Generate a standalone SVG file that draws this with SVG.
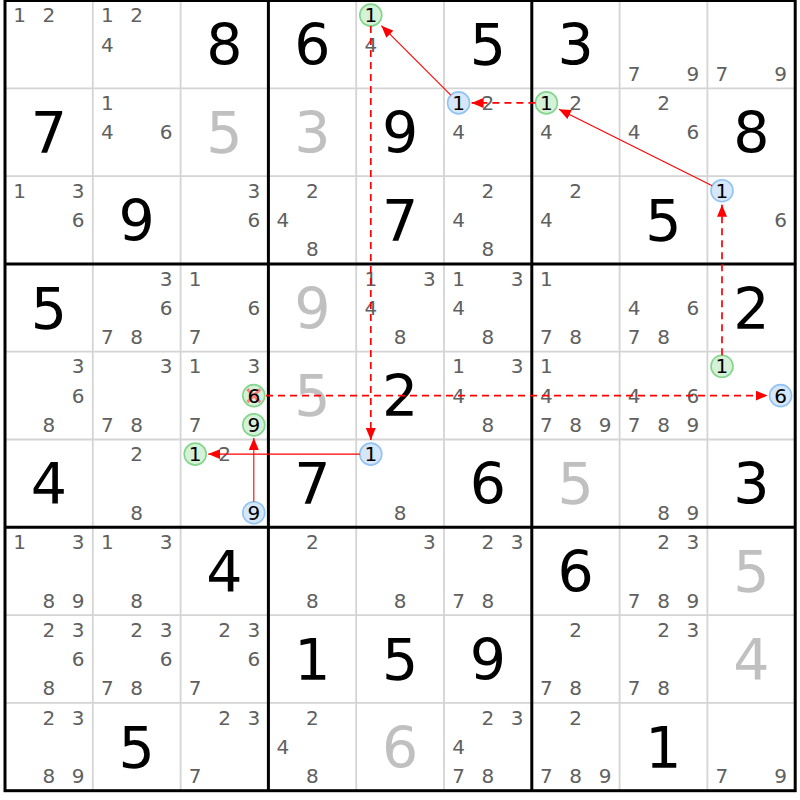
<svg xmlns="http://www.w3.org/2000/svg" width="800" height="800" viewBox="0 0 800 800">
<style>
.bg{fill:#fff}
.thin{stroke:#d4d4d4;stroke-width:1.8;fill:none}
.thick{stroke:#000;stroke-width:3;fill:none}
text{font-family:"DejaVu Sans",Verdana,sans-serif;text-anchor:middle}
.c{font-size:20px;fill:#606060}
.b{font-size:57px;fill:#000}
.gr{fill:#c0c0c0}
.h{fill:#000}
.cg{fill:#d5f1d7;stroke:#82d68d;stroke-width:1.6}
.cb{fill:#d6e7fa;stroke:#92c3f3;stroke-width:1.6}
.x{stroke:#ff8080;stroke-width:3}
.ln{stroke:#ff0000;stroke-width:1.1;fill:none}
.dl{stroke:#ff0000;stroke-width:1.7;stroke-dasharray:7,5;fill:none}
</style>
<defs>
<marker id="ah" markerUnits="userSpaceOnUse" markerWidth="13" markerHeight="10" refX="12" refY="5" orient="auto">
<path d="M0,0 L12,5 L0,10 z" fill="#ff0000"/>
</marker>
</defs>
<rect class="bg" x="0" y="0" width="800" height="800"/>
<g id="grid-thin">
<path class="thin" d="M92.8,0.5V790.7M180.6,0.5V790.7M356.2,0.5V790.7M444,0.5V790.7M619.6,0.5V790.7M707.4,0.5V790.7M5,88.3H795.2M5,176.1H795.2M5,351.7H795.2M5,439.5H795.2M5,615.1H795.2M5,702.9H795.2"/>
</g>
<!-- Row 1 -->
<g id="r1c1" transform="translate(5,0.5)"><text class="c" x="14.6" y="21.8">1</text><text class="c" x="43.9" y="21.8">2</text></g>
<g id="r1c2" transform="translate(92.8,0.5)"><text class="c" x="14.6" y="21.8">1</text><text class="c" x="43.9" y="21.8">2</text><text class="c" x="14.6" y="51.1">4</text></g>
<g id="r1c3" transform="translate(180.6,0.5)"><text class="b" x="43.9" y="64.8">8</text></g>
<g id="r1c4" transform="translate(268.4,0.5)"><text class="b" x="43.9" y="64.8">6</text></g>
<g id="r1c5" transform="translate(356.2,0.5)"><circle class="cg" cx="14.6" cy="14.6" r="11"/><text class="c h" x="14.6" y="21.8">1</text><text class="c" x="14.6" y="51.1">4</text></g>
<g id="r1c6" transform="translate(444,0.5)"><text class="b" x="43.9" y="64.8">5</text></g>
<g id="r1c7" transform="translate(531.8,0.5)"><text class="b" x="43.9" y="64.8">3</text></g>
<g id="r1c8" transform="translate(619.6,0.5)"><text class="c" x="14.6" y="80.4">7</text><text class="c" x="73.2" y="80.4">9</text></g>
<g id="r1c9" transform="translate(707.4,0.5)"><text class="c" x="14.6" y="80.4">7</text><text class="c" x="73.2" y="80.4">9</text></g>
<!-- Row 2 -->
<g id="r2c1" transform="translate(5,88.3)"><text class="b" x="43.9" y="64.8">7</text></g>
<g id="r2c2" transform="translate(92.8,88.3)"><text class="c" x="14.6" y="21.8">1</text><text class="c" x="14.6" y="51.1">4</text><text class="c" x="73.2" y="51.1">6</text></g>
<g id="r2c3" transform="translate(180.6,88.3)"><text class="b gr" x="43.9" y="64.8">5</text></g>
<g id="r2c4" transform="translate(268.4,88.3)"><text class="b gr" x="43.9" y="64.8">3</text></g>
<g id="r2c5" transform="translate(356.2,88.3)"><text class="b" x="43.9" y="64.8">9</text></g>
<g id="r2c6" transform="translate(444,88.3)"><circle class="cb" cx="14.6" cy="14.6" r="11"/><text class="c h" x="14.6" y="21.8">1</text><text class="c" x="43.9" y="21.8">2</text><text class="c" x="14.6" y="51.1">4</text></g>
<g id="r2c7" transform="translate(531.8,88.3)"><circle class="cg" cx="14.6" cy="14.6" r="11"/><text class="c h" x="14.6" y="21.8">1</text><text class="c" x="43.9" y="21.8">2</text><text class="c" x="14.6" y="51.1">4</text></g>
<g id="r2c8" transform="translate(619.6,88.3)"><text class="c" x="43.9" y="21.8">2</text><text class="c" x="14.6" y="51.1">4</text><text class="c" x="73.2" y="51.1">6</text></g>
<g id="r2c9" transform="translate(707.4,88.3)"><text class="b" x="43.9" y="64.8">8</text></g>
<!-- Row 3 -->
<g id="r3c1" transform="translate(5,176.1)"><text class="c" x="14.6" y="21.8">1</text><text class="c" x="73.2" y="21.8">3</text><text class="c" x="73.2" y="51.1">6</text></g>
<g id="r3c2" transform="translate(92.8,176.1)"><text class="b" x="43.9" y="64.8">9</text></g>
<g id="r3c3" transform="translate(180.6,176.1)"><text class="c" x="73.2" y="21.8">3</text><text class="c" x="73.2" y="51.1">6</text></g>
<g id="r3c4" transform="translate(268.4,176.1)"><text class="c" x="43.9" y="21.8">2</text><text class="c" x="14.6" y="51.1">4</text><text class="c" x="43.9" y="80.4">8</text></g>
<g id="r3c5" transform="translate(356.2,176.1)"><text class="b" x="43.9" y="64.8">7</text></g>
<g id="r3c6" transform="translate(444,176.1)"><text class="c" x="43.9" y="21.8">2</text><text class="c" x="14.6" y="51.1">4</text><text class="c" x="43.9" y="80.4">8</text></g>
<g id="r3c7" transform="translate(531.8,176.1)"><text class="c" x="43.9" y="21.8">2</text><text class="c" x="14.6" y="51.1">4</text></g>
<g id="r3c8" transform="translate(619.6,176.1)"><text class="b" x="43.9" y="64.8">5</text></g>
<g id="r3c9" transform="translate(707.4,176.1)"><circle class="cb" cx="14.6" cy="14.6" r="11"/><text class="c h" x="14.6" y="21.8">1</text><text class="c" x="73.2" y="51.1">6</text></g>
<!-- Row 4 -->
<g id="r4c1" transform="translate(5,263.9)"><text class="b" x="43.9" y="64.8">5</text></g>
<g id="r4c2" transform="translate(92.8,263.9)"><text class="c" x="73.2" y="21.8">3</text><text class="c" x="73.2" y="51.1">6</text><text class="c" x="14.6" y="80.4">7</text><text class="c" x="43.9" y="80.4">8</text></g>
<g id="r4c3" transform="translate(180.6,263.9)"><text class="c" x="14.6" y="21.8">1</text><text class="c" x="73.2" y="51.1">6</text><text class="c" x="14.6" y="80.4">7</text></g>
<g id="r4c4" transform="translate(268.4,263.9)"><text class="b gr" x="43.9" y="64.8">9</text></g>
<g id="r4c5" transform="translate(356.2,263.9)"><text class="c" x="14.6" y="21.8">1</text><text class="c" x="73.2" y="21.8">3</text><text class="c" x="14.6" y="51.1">4</text><text class="c" x="43.9" y="80.4">8</text></g>
<g id="r4c6" transform="translate(444,263.9)"><text class="c" x="14.6" y="21.8">1</text><text class="c" x="73.2" y="21.8">3</text><text class="c" x="14.6" y="51.1">4</text><text class="c" x="43.9" y="80.4">8</text></g>
<g id="r4c7" transform="translate(531.8,263.9)"><text class="c" x="14.6" y="21.8">1</text><text class="c" x="14.6" y="80.4">7</text><text class="c" x="43.9" y="80.4">8</text></g>
<g id="r4c8" transform="translate(619.6,263.9)"><text class="c" x="14.6" y="51.1">4</text><text class="c" x="73.2" y="51.1">6</text><text class="c" x="14.6" y="80.4">7</text><text class="c" x="43.9" y="80.4">8</text></g>
<g id="r4c9" transform="translate(707.4,263.9)"><text class="b" x="43.9" y="64.8">2</text></g>
<!-- Row 5 -->
<g id="r5c1" transform="translate(5,351.7)"><text class="c" x="73.2" y="21.8">3</text><text class="c" x="73.2" y="51.1">6</text><text class="c" x="43.9" y="80.4">8</text></g>
<g id="r5c2" transform="translate(92.8,351.7)"><text class="c" x="73.2" y="21.8">3</text><text class="c" x="14.6" y="80.4">7</text><text class="c" x="43.9" y="80.4">8</text></g>
<g id="r5c3" transform="translate(180.6,351.7)"><text class="c" x="14.6" y="21.8">1</text><text class="c" x="73.2" y="21.8">3</text><circle class="cg" cx="73.2" cy="43.9" r="11"/><path class="x" d="M66.7,37.4L79.7,50.4M79.7,37.4L66.7,50.4"/><text class="c h" x="73.2" y="51.1">6</text><text class="c" x="14.6" y="80.4">7</text><circle class="cg" cx="73.2" cy="73.2" r="11"/><text class="c h" x="73.2" y="80.4">9</text></g>
<g id="r5c4" transform="translate(268.4,351.7)"><text class="b gr" x="43.9" y="64.8">5</text></g>
<g id="r5c5" transform="translate(356.2,351.7)"><text class="b" x="43.9" y="64.8">2</text></g>
<g id="r5c6" transform="translate(444,351.7)"><text class="c" x="14.6" y="21.8">1</text><text class="c" x="73.2" y="21.8">3</text><text class="c" x="14.6" y="51.1">4</text><text class="c" x="43.9" y="80.4">8</text></g>
<g id="r5c7" transform="translate(531.8,351.7)"><text class="c" x="14.6" y="21.8">1</text><text class="c" x="14.6" y="51.1">4</text><text class="c" x="14.6" y="80.4">7</text><text class="c" x="43.9" y="80.4">8</text><text class="c" x="73.2" y="80.4">9</text></g>
<g id="r5c8" transform="translate(619.6,351.7)"><text class="c" x="14.6" y="51.1">4</text><text class="c" x="73.2" y="51.1">6</text><text class="c" x="14.6" y="80.4">7</text><text class="c" x="43.9" y="80.4">8</text><text class="c" x="73.2" y="80.4">9</text></g>
<g id="r5c9" transform="translate(707.4,351.7)"><circle class="cg" cx="14.6" cy="14.6" r="11"/><text class="c h" x="14.6" y="21.8">1</text><circle class="cb" cx="73.2" cy="43.9" r="11"/><text class="c h" x="73.2" y="51.1">6</text></g>
<!-- Row 6 -->
<g id="r6c1" transform="translate(5,439.5)"><text class="b" x="43.9" y="64.8">4</text></g>
<g id="r6c2" transform="translate(92.8,439.5)"><text class="c" x="43.9" y="21.8">2</text><text class="c" x="43.9" y="80.4">8</text></g>
<g id="r6c3" transform="translate(180.6,439.5)"><circle class="cg" cx="14.6" cy="14.6" r="11"/><text class="c h" x="14.6" y="21.8">1</text><text class="c" x="43.9" y="21.8">2</text><circle class="cb" cx="73.2" cy="73.2" r="11"/><text class="c h" x="73.2" y="80.4">9</text></g>
<g id="r6c4" transform="translate(268.4,439.5)"><text class="b" x="43.9" y="64.8">7</text></g>
<g id="r6c5" transform="translate(356.2,439.5)"><circle class="cb" cx="14.6" cy="14.6" r="11"/><text class="c h" x="14.6" y="21.8">1</text><text class="c" x="43.9" y="80.4">8</text></g>
<g id="r6c6" transform="translate(444,439.5)"><text class="b" x="43.9" y="64.8">6</text></g>
<g id="r6c7" transform="translate(531.8,439.5)"><text class="b gr" x="43.9" y="64.8">5</text></g>
<g id="r6c8" transform="translate(619.6,439.5)"><text class="c" x="43.9" y="80.4">8</text><text class="c" x="73.2" y="80.4">9</text></g>
<g id="r6c9" transform="translate(707.4,439.5)"><text class="b" x="43.9" y="64.8">3</text></g>
<!-- Row 7 -->
<g id="r7c1" transform="translate(5,527.3)"><text class="c" x="14.6" y="21.8">1</text><text class="c" x="73.2" y="21.8">3</text><text class="c" x="43.9" y="80.4">8</text><text class="c" x="73.2" y="80.4">9</text></g>
<g id="r7c2" transform="translate(92.8,527.3)"><text class="c" x="14.6" y="21.8">1</text><text class="c" x="73.2" y="21.8">3</text><text class="c" x="43.9" y="80.4">8</text></g>
<g id="r7c3" transform="translate(180.6,527.3)"><text class="b" x="43.9" y="64.8">4</text></g>
<g id="r7c4" transform="translate(268.4,527.3)"><text class="c" x="43.9" y="21.8">2</text><text class="c" x="43.9" y="80.4">8</text></g>
<g id="r7c5" transform="translate(356.2,527.3)"><text class="c" x="73.2" y="21.8">3</text><text class="c" x="43.9" y="80.4">8</text></g>
<g id="r7c6" transform="translate(444,527.3)"><text class="c" x="43.9" y="21.8">2</text><text class="c" x="73.2" y="21.8">3</text><text class="c" x="14.6" y="80.4">7</text><text class="c" x="43.9" y="80.4">8</text></g>
<g id="r7c7" transform="translate(531.8,527.3)"><text class="b" x="43.9" y="64.8">6</text></g>
<g id="r7c8" transform="translate(619.6,527.3)"><text class="c" x="43.9" y="21.8">2</text><text class="c" x="73.2" y="21.8">3</text><text class="c" x="14.6" y="80.4">7</text><text class="c" x="43.9" y="80.4">8</text><text class="c" x="73.2" y="80.4">9</text></g>
<g id="r7c9" transform="translate(707.4,527.3)"><text class="b gr" x="43.9" y="64.8">5</text></g>
<!-- Row 8 -->
<g id="r8c1" transform="translate(5,615.1)"><text class="c" x="43.9" y="21.8">2</text><text class="c" x="73.2" y="21.8">3</text><text class="c" x="73.2" y="51.1">6</text><text class="c" x="43.9" y="80.4">8</text></g>
<g id="r8c2" transform="translate(92.8,615.1)"><text class="c" x="43.9" y="21.8">2</text><text class="c" x="73.2" y="21.8">3</text><text class="c" x="73.2" y="51.1">6</text><text class="c" x="14.6" y="80.4">7</text><text class="c" x="43.9" y="80.4">8</text></g>
<g id="r8c3" transform="translate(180.6,615.1)"><text class="c" x="43.9" y="21.8">2</text><text class="c" x="73.2" y="21.8">3</text><text class="c" x="73.2" y="51.1">6</text><text class="c" x="14.6" y="80.4">7</text></g>
<g id="r8c4" transform="translate(268.4,615.1)"><text class="b" x="43.9" y="64.8">1</text></g>
<g id="r8c5" transform="translate(356.2,615.1)"><text class="b" x="43.9" y="64.8">5</text></g>
<g id="r8c6" transform="translate(444,615.1)"><text class="b" x="43.9" y="64.8">9</text></g>
<g id="r8c7" transform="translate(531.8,615.1)"><text class="c" x="43.9" y="21.8">2</text><text class="c" x="14.6" y="80.4">7</text><text class="c" x="43.9" y="80.4">8</text></g>
<g id="r8c8" transform="translate(619.6,615.1)"><text class="c" x="43.9" y="21.8">2</text><text class="c" x="73.2" y="21.8">3</text><text class="c" x="14.6" y="80.4">7</text><text class="c" x="43.9" y="80.4">8</text></g>
<g id="r8c9" transform="translate(707.4,615.1)"><text class="b gr" x="43.9" y="64.8">4</text></g>
<!-- Row 9 -->
<g id="r9c1" transform="translate(5,702.9)"><text class="c" x="43.9" y="21.8">2</text><text class="c" x="73.2" y="21.8">3</text><text class="c" x="43.9" y="80.4">8</text><text class="c" x="73.2" y="80.4">9</text></g>
<g id="r9c2" transform="translate(92.8,702.9)"><text class="b" x="43.9" y="64.8">5</text></g>
<g id="r9c3" transform="translate(180.6,702.9)"><text class="c" x="43.9" y="21.8">2</text><text class="c" x="73.2" y="21.8">3</text><text class="c" x="14.6" y="80.4">7</text></g>
<g id="r9c4" transform="translate(268.4,702.9)"><text class="c" x="43.9" y="21.8">2</text><text class="c" x="14.6" y="51.1">4</text><text class="c" x="43.9" y="80.4">8</text></g>
<g id="r9c5" transform="translate(356.2,702.9)"><text class="b gr" x="43.9" y="64.8">6</text></g>
<g id="r9c6" transform="translate(444,702.9)"><text class="c" x="43.9" y="21.8">2</text><text class="c" x="73.2" y="21.8">3</text><text class="c" x="14.6" y="51.1">4</text><text class="c" x="14.6" y="80.4">7</text><text class="c" x="43.9" y="80.4">8</text></g>
<g id="r9c7" transform="translate(531.8,702.9)"><text class="c" x="43.9" y="21.8">2</text><text class="c" x="14.6" y="80.4">7</text><text class="c" x="43.9" y="80.4">8</text><text class="c" x="73.2" y="80.4">9</text></g>
<g id="r9c8" transform="translate(619.6,702.9)"><text class="b" x="43.9" y="64.8">1</text></g>
<g id="r9c9" transform="translate(707.4,702.9)"><text class="c" x="14.6" y="80.4">7</text><text class="c" x="73.2" y="80.4">9</text></g>
<g id="grid-thick">
<path class="thick" d="M268.4,0.5V790.7M531.8,0.5V790.7M5,263.9H795.2M5,527.3H795.2"/>
<rect class="thick" x="5" y="0.5" width="790.2" height="790.2"/>
</g>
<g id="connectors">
<line class="ln" x1="450.8" y1="95.1" x2="381.4" y2="25.7" marker-end="url(#ah)"/>
<line class="dl" x1="535.4" y1="102.9" x2="471.6" y2="102.9" marker-end="url(#ah)"/>
<line class="ln" x1="712.2" y1="185.8" x2="558.9" y2="109.2" marker-end="url(#ah)"/>
<line class="dl" x1="722" y1="355.3" x2="722" y2="204.7" marker-end="url(#ah)"/>
<line class="dl" x1="266" y1="395.6" x2="767.6" y2="395.6" marker-end="url(#ah)"/>
<line class="dl" x1="370.8" y1="26.1" x2="370.8" y2="440" marker-end="url(#ah)"/>
<line class="ln" x1="359.8" y1="454.1" x2="208.2" y2="454.1" marker-end="url(#ah)"/>
<line class="ln" x1="253.8" y1="501.7" x2="253.8" y2="437.9" marker-end="url(#ah)"/>
</g>
</svg>
